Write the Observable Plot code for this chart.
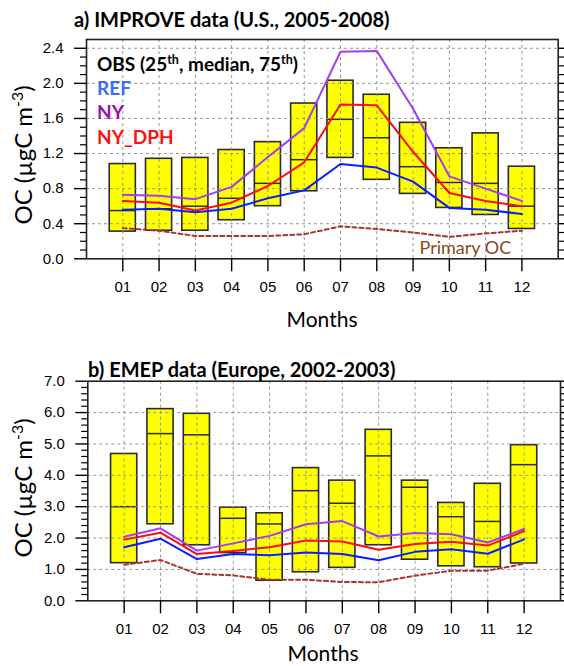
<!DOCTYPE html>
<html>
<head>
<meta charset="utf-8">
<script src="https://cdn.jsdelivr.net/npm/d3@7"></script>
<script src="https://cdn.jsdelivr.net/npm/@observablehq/plot@0.6"></script>
<style>
  body { margin: 0; background: #fff; }
  #wrap { position: relative; width: 564px; height: 666px; overflow: hidden; background: #fff; }
  .abs { position: absolute; white-space: nowrap; }
  .title { font-family: Lato, "Open Sans", sans-serif; font-weight: 700; font-size: 20px; line-height: 22px; color: #000; }
  .ylab { font-family: Lato, "Open Sans", sans-serif; font-size: 24px; line-height: 26px; color: #000; transform: translate(-50%, -50%) rotate(-90deg); }
  .xlab { font-family: Lato, "Open Sans", sans-serif; font-size: 21px; line-height: 22px; color: #000; transform: translate(-50%, -50%); }
  .leg { font-family: Lato, "Open Sans", sans-serif; font-weight: 700; font-size: 19px; line-height: 18px; }
  sup { font-size: 0.66em; vertical-align: 0.55em; line-height: 0; }
</style>
</head>
<body>
<div id="wrap"></div>
<script>
// ---------- data ----------
const months = [1, 2, 3, 4, 5, 6, 7, 8, 9, 10, 11, 12];
const monthLabels = ["01", "02", "03", "04", "05", "06", "07", "08", "09", "10", "11", "12"];

// a) IMPROVE (U.S., 2005-2008)
const improveQ25 = [0.31, 0.32, 0.32, 0.44, 0.60, 0.77, 1.15, 0.90, 0.74, 0.58, 0.50, 0.34];
const improveMed = [0.55, 0.57, 0.60, 0.69, 0.86, 1.13, 1.59, 1.38, 1.05, 0.87, 0.86, 0.60];
const improveQ75 = [1.08, 1.14, 1.15, 1.24, 1.33, 1.77, 2.03, 1.87, 1.55, 1.26, 1.43, 1.05];
const improveREF = [0.56, 0.57, 0.53, 0.57, 0.69, 0.78, 1.08, 1.04, 0.88, 0.58, 0.56, 0.51];
const improveNY = [0.73, 0.72, 0.68, 0.82, 1.16, 1.49, 2.36, 2.37, 1.71, 0.94, 0.80, 0.66];
const improveNYDPH = [0.66, 0.64, 0.55, 0.64, 0.83, 1.10, 1.76, 1.75, 1.22, 0.75, 0.66, 0.60];
const improvePrimary = [0.35, 0.32, 0.26, 0.26, 0.26, 0.28, 0.37, 0.34, 0.30, 0.25, 0.29, 0.32];

// b) EMEP (Europe, 2002-2003)
const emepQ25 = [1.20, 2.44, 1.77, 1.52, 0.64, 0.91, 1.05, 1.77, 1.31, 1.10, 1.07, 1.19];
const emepMed = [3.00, 5.33, 5.29, 2.63, 2.45, 3.51, 3.11, 4.62, 3.62, 2.68, 2.53, 4.34];
const emepQ75 = [4.68, 6.11, 5.96, 2.97, 2.79, 4.23, 3.83, 5.45, 3.83, 3.12, 3.73, 4.96];
const emepREF = [1.71, 1.98, 1.33, 1.49, 1.45, 1.54, 1.49, 1.29, 1.56, 1.64, 1.50, 1.96];
const emepNY = [2.04, 2.31, 1.60, 1.83, 2.07, 2.44, 2.54, 2.05, 2.16, 2.12, 1.86, 2.29];
const emepNYDPH = [1.95, 2.17, 1.49, 1.59, 1.71, 1.92, 1.89, 1.63, 1.81, 1.88, 1.76, 2.22];
const emepPrimary = [1.15, 1.30, 0.86, 0.81, 0.67, 0.67, 0.60, 0.59, 0.80, 0.96, 0.96, 1.18];

const improveYTicks = [0.0, 0.4, 0.8, 1.2, 1.6, 2.0, 2.4];
const emepYTicks = [0, 1, 2, 3, 4, 5, 6, 7];

// ---------- colors ----------
const C = {
  box: "#ffff00", boxStroke: "#2a2a2a",
  ref: "#0a1eff", ny: "#a23ef0", nydph: "#ff0a0a", primary: "#a83434",
  refText: "#3d6cf5", nyText: "#9c12a8", nydphText: "#ff1010", primText: "#8a4a1c",
  grid: "#8c8c8c"
};

function rowsOf(q25, med, q75, ref, ny, nydph, prim) {
  return months.map((m, i) => ({
    month: m, label: monthLabels[i], q25: q25[i], med: med[i], q75: q75[i],
    ref: ref[i], ny: ny[i], nydph: nydph[i], prim: prim[i]
  }));
}

function panel({rows, yDomain, yMajor, yMinor, gridY, mLeft, mRight, mTop, mBottom, height, extra = []}) {
  const half = 0.36;
  const fmt = d => d.toFixed(1);
  return Plot.plot({
    width: 564, height,
    marginLeft: mLeft, marginRight: mRight, marginTop: mTop, marginBottom: mBottom,
    x: {type: "linear", domain: [0, 13]},
    y: {type: "linear", domain: yDomain},
    style: {fontFamily: "'Liberation Sans', Arial, sans-serif", fontSize: "15px", color: "#000", background: "transparent", overflow: "visible"},
    marks: [
      Plot.rect(rows, {x1: d => d.month - half, x2: d => d.month + half, y1: "q25", y2: "q75",
        fill: C.box, stroke: C.boxStroke, strokeWidth: 1.6}),
      Plot.link(rows, {x1: d => d.month - half, x2: d => d.month + half, y1: "med", y2: "med",
        stroke: C.boxStroke, strokeWidth: 1.5}),
      Plot.gridX(months, {stroke: C.grid, strokeOpacity: 1, strokeWidth: 0.9, strokeDasharray: "3,3"}),
      Plot.gridY(gridY, {stroke: C.grid, strokeOpacity: 1, strokeWidth: 0.9, strokeDasharray: "3,3"}),
      Plot.line(rows, {x: "month", y: "prim", stroke: C.primary, strokeWidth: 2, strokeDasharray: "4,3"}),
      Plot.line(rows, {x: "month", y: "ny", stroke: C.ny, strokeWidth: 2}),
      Plot.line(rows, {x: "month", y: "nydph", stroke: C.nydph, strokeWidth: 2}),
      Plot.line(rows, {x: "month", y: "ref", stroke: C.ref, strokeWidth: 2}),
      Plot.frame({stroke: "#222", strokeWidth: 1.6}),
      Plot.axisY(yMajor, {anchor: "left", tickSize: 12, tickPadding: 11, tickFormat: fmt, label: null, strokeWidth: 1.4}),
      Plot.axisY(yMinor, {anchor: "left", tickSize: 6, tickFormat: () => "", label: null, strokeWidth: 1.2}),
      Plot.axisY(yMajor, {anchor: "right", tickSize: 12, tickFormat: () => "", label: null, strokeWidth: 1.4}),
      Plot.axisY(yMinor, {anchor: "right", tickSize: 6, tickFormat: () => "", label: null, strokeWidth: 1.2}),
      Plot.axisX(months, {anchor: "bottom", tickSize: 13, tickPadding: 10, tickFormat: d => monthLabels[d - 1], label: null, strokeWidth: 1.4}),
      ...extra
    ]
  });
}

const wrap = document.getElementById("wrap");

// ---------- panel a ----------
const rowsA = rowsOf(improveQ25, improveMed, improveQ75, improveREF, improveNY, improveNYDPH, improvePrimary);
const minorA = d3.range(1, 25).filter(i => i % 4 !== 0).map(i => i / 10);
const plotA = panel({
  rows: rowsA, yDomain: [0, 2.5], yMajor: improveYTicks, yMinor: minorA,
  gridY: improveYTicks.filter(v => v > 0),
  mLeft: 86, mRight: 6.3, mTop: 39, mBottom: 41.7, height: 300,
  extra: [
    Plot.text(["Primary OC"], {frameAnchor: "bottom-right", dx: -47, dy: -5, textAnchor: "end", lineAnchor: "bottom",
      fill: C.primText, fontSize: 18, fontFamily: "Lato, 'Open Sans', sans-serif"})
  ]
});
plotA.style.position = "absolute";
plotA.style.left = "0px";
plotA.style.top = "0px";
wrap.appendChild(plotA);

// ---------- panel b ----------
const rowsB = rowsOf(emepQ25, emepMed, emepQ75, emepREF, emepNY, emepNYDPH, emepPrimary);
const minorB = d3.range(1, 35).filter(i => i % 5 !== 0).map(i => i / 5);
const plotB = panel({
  rows: rowsB, yDomain: [0, 7], yMajor: emepYTicks, yMinor: minorB,
  gridY: emepYTicks.filter(v => v > 0 && v < 7),
  mLeft: 87.3, mRight: 4, mTop: 40.7, mBottom: 39.7, height: 300
});
plotB.style.position = "absolute";
plotB.style.left = "0px";
plotB.style.top = "340px";
wrap.appendChild(plotB);

// ---------- HTML text ----------
function addText(cls, html, css) {
  const d = document.createElement("div");
  d.className = "abs " + cls;
  d.innerHTML = html;
  Object.assign(d.style, css);
  wrap.appendChild(d);
  return d;
}
addText("title", "a) IMPROVE data (U.S., 2005-2008)", {left: "74px", top: "8px"});
addText("title", "b) EMEP data (Europe, 2002-2003)", {left: "88px", top: "358px"});
addText("ylab", "OC (µgC m<sup>-3</sup>)", {left: "23px", top: "155px"});
addText("ylab", "OC (µgC m<sup>-3</sup>)", {left: "23px", top: "488px"});
addText("xlab", "Months", {left: "322px", top: "319px"});
addText("xlab", "Months", {left: "323px", top: "653px"});

addText("leg", "OBS (25<sup>th</sup>, median, 75<sup>th</sup>)", {left: "97px", top: "55px", color: "#000"});
addText("leg", "REF", {left: "97px", top: "79px", color: C.refText});
addText("leg", "NY", {left: "97px", top: "103px", color: C.nyText});
addText("leg", "NY_DPH", {left: "97px", top: "128px", color: C.nydphText});
</script>
</body>
</html>
